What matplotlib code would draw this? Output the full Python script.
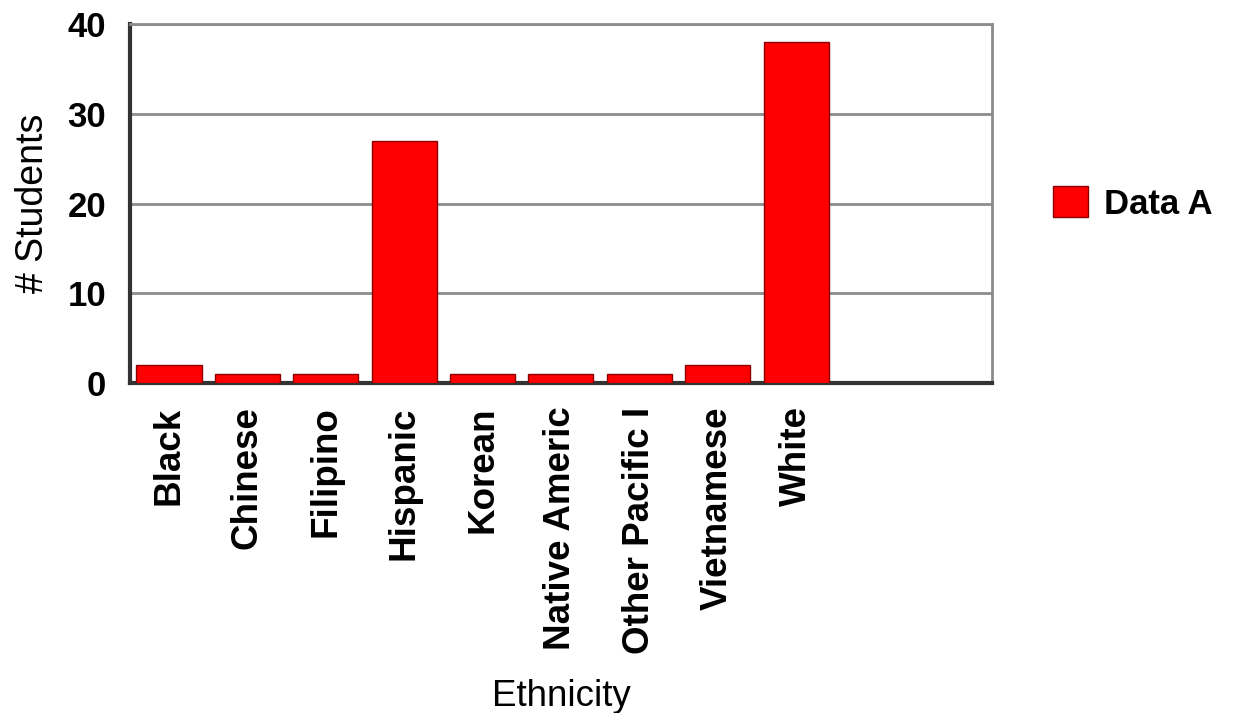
import matplotlib
matplotlib.use("Agg")
import matplotlib.pyplot as plt

# data
ethnicity = ["Black", "Chinese", "Filipino", "Hispanic", "Korean",
             "Native Americ", "Other Pacific I", "Vietnamese", "White"]
students = [2, 1, 1, 27, 1, 1, 1, 2, 38]
series_name = "Data A"
y_ticks = [0, 10, 20, 30, 40]

plt.rcParams["font.family"] = ["Liberation Sans", "DejaVu Sans"]

fig = plt.figure(figsize=(12.36, 7.13), dpi=100)
ax = fig.add_axes([0.105, 0.463, 0.6976, 0.503])

x = list(range(len(ethnicity)))
ax.bar(x, students, width=0.83, color="#ff0000", edgecolor="#8b0000",
       linewidth=1.0, label=series_name, zorder=3)

# 11 category slots, the last two stay empty
ax.set_xlim(-0.5, 10.5)
ax.set_ylim(0, 40)
ax.set_yticks(y_ticks)
ax.set_xticks(x)
ax.set_xticklabels(ethnicity, rotation=90, ha="center", va="top",
                   fontsize=26.5, fontweight="bold")
ax.set_yticklabels([str(v) for v in y_ticks], fontsize=25, fontweight="bold")
ax.tick_params(axis="both", length=0)
ax.tick_params(axis="y", pad=17)
ax.tick_params(axis="x", pad=17)

ax.yaxis.grid(True, color="#8c8c8c", linewidth=2.0, zorder=0)
ax.set_axisbelow(True)

for side in ["top", "right"]:
    ax.spines[side].set_color("#8c8c8c")
    ax.spines[side].set_linewidth(2.0)
for side in ["left", "bottom"]:
    ax.spines[side].set_color("#333333")
    ax.spines[side].set_linewidth(3.0)

ax.set_ylabel("# Students", fontsize=27, labelpad=12)
ax.set_xlabel("Ethnicity", fontsize=26.5, labelpad=18)

ax.legend(loc="center left", bbox_to_anchor=(1.035, 0.5), frameon=False,
          prop={"size": 25, "weight": "bold"},
          handlelength=1.0, handleheight=1.0, handletextpad=0.45)

fig.savefig("out.png", dpi=100)
